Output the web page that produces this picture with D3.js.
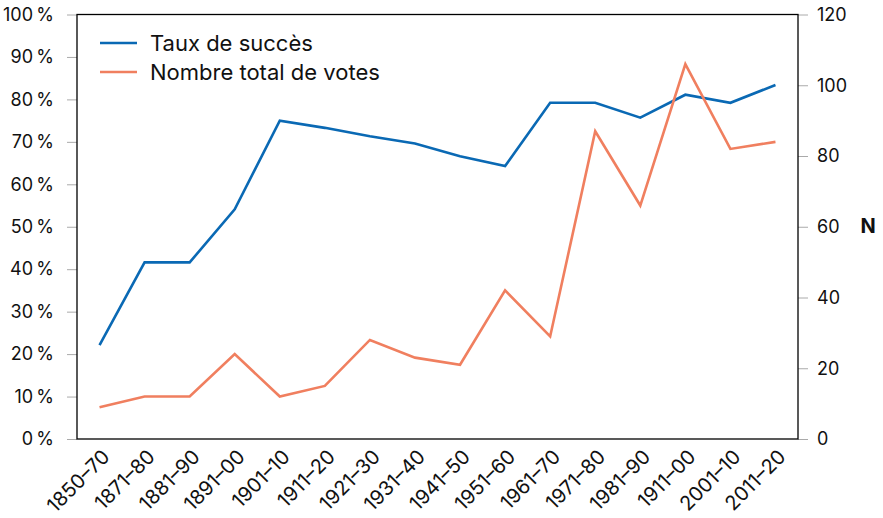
<!DOCTYPE html>
<html>
<head>
<meta charset="utf-8">
<script src="https://cdn.jsdelivr.net/npm/d3@7"></script>
<style>
  body { margin: 0; background: #fff; }
  text { font-family: Inter, "Open Sans", sans-serif; fill: #111; }
</style>
</head>
<body>
<svg width="883" height="518"></svg>
<script>
// periods on the x axis
var periods = ["1850–70", "1871–80", "1881–90", "1891–00", "1901–10", "1911–20", "1921–30",
  "1931–40", "1941–50", "1951–60", "1961–70", "1971–80", "1981–90", "1911–00", "2001–10", "2011–20"];
// success rate (%)
var tauxSucces = [22.1, 41.6, 41.6, 54.1, 75.0, 73.3, 71.3, 69.6, 66.6, 64.3, 79.2, 79.2, 75.7, 81.1, 79.2, 83.4];
// total number of votes (N)
var nombreVotes = [9, 12, 12, 24, 12, 15, 28, 23, 21, 42, 29, 87, 66, 106, 82, 84];
var leftTicks = [0, 10, 20, 30, 40, 50, 60, 70, 80, 90, 100];
var rightTicks = [0, 20, 40, 60, 80, 100, 120];

var blue = "#0a69b4", orange = "#f07f5f";
var margin = { top: 14.5, right: 85, bottom: 79, left: 77 };
var svg = d3.select("svg");
var width = 883 - margin.left - margin.right,
    height = 518 - margin.top - margin.bottom;

var g = svg.append("g").attr("transform", "translate(" + margin.left + "," + margin.top + ")");

var x = d3.scalePoint().domain(periods).range([0, width]).padding(0.5);
var yL = d3.scaleLinear().domain([0, 100]).range([height, 0]);
var yR = d3.scaleLinear().domain([0, 120]).range([height, 0]);

// left axis
var axL = g.append("g")
  .call(d3.axisLeft(yL).tickValues(leftTicks).tickSize(10).tickPadding(13)
    .tickFormat(function(d) { return d + "\u2009%"; }));
axL.select(".domain").remove();
axL.selectAll("line").attr("stroke", "#aaa");
axL.selectAll("text").style("font-size", "18px").style("font-family", null);

// right axis
var axR = g.append("g").attr("transform", "translate(" + width + ",0)")
  .call(d3.axisRight(yR).tickValues(rightTicks).tickSize(10).tickPadding(9));
axR.select(".domain").remove();
axR.selectAll("line").attr("stroke", "#aaa");
axR.selectAll("text").style("font-size", "18px").style("font-family", null);

// x labels
var axX = g.append("g").attr("transform", "translate(0," + height + ")")
  .call(d3.axisBottom(x).tickSize(0).tickPadding(0));
axX.select(".domain").remove();
axX.selectAll("text")
  .style("font-size", "20px").style("font-family", null)
  .attr("text-anchor", "end")
  .attr("dy", null)
  .attr("transform", "translate(11,19) rotate(-45)");

// frame
g.append("rect").attr("width", width).attr("height", height)
  .attr("fill", "none").attr("stroke", "#000").attr("stroke-width", 1.3);

// lines
g.append("path").datum(tauxSucces)
  .attr("fill", "none").attr("stroke", blue).attr("stroke-width", 2.6)
  .attr("d", d3.line().x(function(d, i) { return x(periods[i]); }).y(function(d) { return yL(d); }));

g.append("path").datum(nombreVotes)
  .attr("fill", "none").attr("stroke", orange).attr("stroke-width", 2.6)
  .attr("d", d3.line().x(function(d, i) { return x(periods[i]); }).y(function(d) { return yR(d); }));

// legend
var legend = [{ name: "Taux de succès", c: blue }, { name: "Nombre total de votes", c: orange }];
var lg = svg.append("g").attr("transform", "translate(100,43)");
legend.forEach(function(d, i) {
  lg.append("line").attr("x1", 0).attr("x2", 37).attr("y1", i * 29).attr("y2", i * 29)
    .attr("stroke", d.c).attr("stroke-width", 2.6);
  lg.append("text").attr("x", 50).attr("y", i * 29).attr("dy", "0.35em")
    .style("font-size", "22px").text(d.name);
});

// N label
svg.append("text").attr("x", 868).attr("y", 226).attr("dy", "0.35em")
  .attr("text-anchor", "middle").style("font-size", "20px").style("font-weight", "bold").text("N");
</script>
</body>
</html>
